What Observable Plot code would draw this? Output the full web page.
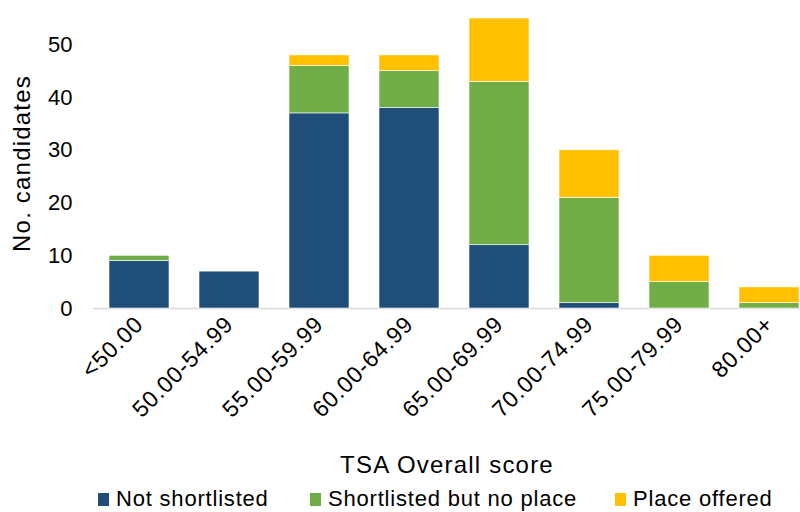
<!DOCTYPE html>
<html><head><meta charset="utf-8">
<script src="https://cdn.jsdelivr.net/npm/d3@7"></script>
<script src="https://cdn.jsdelivr.net/npm/@observablehq/plot@0.6"></script>
<style>
body{margin:0;background:#fff;font-family:"Liberation Sans",Arial,sans-serif;}
#wrap{position:relative;width:800px;height:512px;overflow:hidden;}
#legend{position:absolute;left:0;top:480px;width:800px;height:32px;font-size:22px;letter-spacing:0.8px;color:#000;}
.item{position:absolute;top:6px;display:flex;align-items:center;white-space:nowrap;}
.sw{width:11px;height:13px;margin-right:7px;}
</style></head>
<body><div id="wrap"><div id="chart"></div><div id="legend"></div></div>
<script>
const categories = ["<50.00","50.00-54.99","55.00-59.99","60.00-64.99","65.00-69.99","70.00-74.99","75.00-79.99","80.00+"];
const series = ["Not shortlisted","Shortlisted but no place","Place offered"];
const notShortlisted = [9,7,37,38,12,1,0,0];
const shortlistedNoPlace = [1,0,9,7,31,20,5,1];
const placeOffered = [0,0,2,3,12,9,5,3];
const colors = ["#1f4e79","#70ad47","#ffc000"];
const yTicks = [0,10,20,30,40,50];

const cols = [notShortlisted, shortlistedNoPlace, placeOffered];
const data = [];
categories.forEach((c,i)=>series.forEach((s,j)=>data.push({cat:c, series:s, value:cols[j][i]})));

const W = 800, H = 480;
const chart = Plot.plot({
  width: W, height: H,
  marginTop: 18, marginBottom: 172, marginLeft: 93, marginRight: 0,
  style: {fontFamily: '"Liberation Sans", Arial, sans-serif', fontSize: "22px", color: "#000", background: "#fff"},
  x: {domain: categories, range: [93, 815], paddingInner: 0.33, paddingOuter: 0.165, label: null},
  y: {domain: [0,55], label: null},
  color: {domain: series, range: colors},
  marks: [
    Plot.gridY(yTicks, {stroke: "#d9d9d9", strokeOpacity: 1, strokeWidth: 1.2, x1: 93, x2: 815}),
    Plot.ruleY([0], {stroke: "#d9d9d9", strokeWidth: 1.5}),
    Plot.barY(data, {x: "cat", y: "value", fill: "series", order: series, stroke: "white", strokeWidth: 0.6}),
    Plot.axisY(yTicks, {tickSize: 0, tickPadding: 21, fontSize: 22, label: null}),
    Plot.axisX({tickSize: 0, tickRotate: -45, tickPadding: 12, fontSize: 23, label: null}),
    Plot.text(["No. candidates"], {frameAnchor: "left", textAnchor: "middle", dx: -71, rotate: -90, fontSize: 24, text: d=>d, y: 27.5, x: null}),
    Plot.text(["TSA Overall score"], {fontSize: 24, text: d=>d, frameAnchor: "bottom", dy: 164, x: null})
  ]
});
document.getElementById("chart").appendChild(chart);
chart.querySelectorAll("text").forEach(t=>{
  if (t.textContent==="TSA Overall score" || t.textContent==="No. candidates") t.style.letterSpacing="1.2px";
  else if (categories.includes(t.textContent)) t.style.letterSpacing="0.8px";
});

const legendPos = [98, 310, 615];
const lg = document.getElementById("legend");
series.forEach((s,i)=>{
  const d = document.createElement("div");
  d.className = "item"; d.style.left = legendPos[i]+"px";
  d.innerHTML = `<div class="sw" style="background:${colors[i]}"></div><span>${s}</span>`;
  lg.appendChild(d);
});
</script></body></html>
